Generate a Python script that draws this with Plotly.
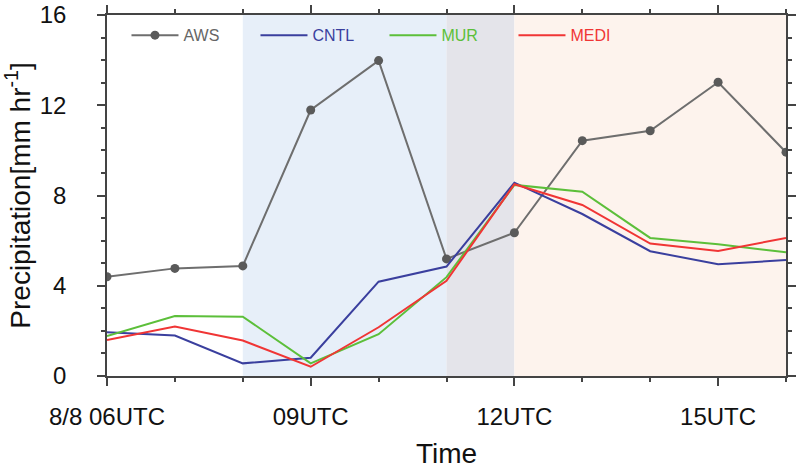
import plotly.graph_objects as go

hours = [6, 7, 8, 9, 10, 11, 12, 13, 14, 15, 16]
aws = [4.40, 4.77, 4.88, 11.79, 13.98, 5.19, 6.35, 10.43, 10.87, 13.02, 9.92]
cntl = [1.94, 1.79, 0.56, 0.81, 4.18, 4.85, 8.57, 7.18, 5.53, 4.95, 5.14]
mur = [1.77, 2.66, 2.63, 0.56, 1.85, 4.38, 8.47, 8.17, 6.12, 5.84, 5.48]
medi = [1.60, 2.19, 1.57, 0.41, 2.16, 4.22, 8.50, 7.58, 5.87, 5.54, 6.12]

tick_vals = [6, 9, 12, 15]
tick_text = ["8/8 06UTC", "09UTC", "12UTC", "15UTC"]

period_start = [8, 11, 12]
period_end = [11, 12, 16]
period_color = ["rgb(231,239,249)", "rgb(228,228,234)", "rgb(253,243,237)"]

FONT = "Liberation Sans, Arial, Helvetica, sans-serif"

fig = go.Figure()

def lab(text, color):
    return f'<span style="color:{color}">{text}</span>'

fig.add_trace(go.Scatter(x=hours, y=aws, mode="lines+markers", name=lab("AWS", "#666666"),
                         line=dict(color="#6e6e6e", width=2),
                         marker=dict(color="#5a5a5a", size=9)))
fig.add_trace(go.Scatter(x=hours, y=cntl, mode="lines", name=lab("CNTL", "#3a3f9e"),
                         line=dict(color="#3a3f9e", width=2)))
fig.add_trace(go.Scatter(x=hours, y=mur, mode="lines", name=lab("MUR", "#5cbf3a"),
                         line=dict(color="#5cbf3a", width=2)))
fig.add_trace(go.Scatter(x=hours, y=medi, mode="lines", name=lab("MEDI", "#f03535"),
                         line=dict(color="#f03535", width=2)))

for s, e, c in zip(period_start, period_end, period_color):
    fig.add_shape(type="rect", xref="x", yref="paper", x0=s, x1=e, y0=0, y1=1,
                  fillcolor=c, line=dict(width=0), layer="below")

axis_common = dict(showgrid=False, zeroline=False, showline=True, linecolor="#444444",
                   linewidth=1.5, mirror="ticks", ticks="outside", ticklen=8, tickwidth=1.5,
                   tickcolor="#444444", automargin=False,
                   tickfont=dict(size=24, color="#111111", family=FONT))

fig.update_layout(
    width=800, height=469,
    margin=dict(l=107, r=14, t=15, b=93),
    plot_bgcolor="white", paper_bgcolor="white",
    font=dict(family=FONT),
    showlegend=True,
    hovermode=False,
    legend=dict(orientation="h", x=0.0287, y=0.991, xanchor="left", yanchor="top",
                bgcolor="rgba(0,0,0,0)", font=dict(size=16, family=FONT),
                entrywidth=67, entrywidthmode="pixels", itemwidth=47),
    xaxis=dict(range=[6, 16], tickmode="array", tickvals=tick_vals, ticktext=tick_text,
               minor=dict(dtick=1, tick0=6, ticks="outside", ticklen=4, tickcolor="#444444"),
               ticklabelstandoff=10,
               title=dict(text="Time", font=dict(size=28, color="#111111"), standoff=21),
               **axis_common),
    yaxis=dict(range=[0, 16], tickmode="array", tickvals=[0, 4, 8, 12, 16],
               minor=dict(dtick=1, tick0=0, ticks="outside", ticklen=4, tickcolor="#444444"),
               ticklabelstandoff=26,
               title=dict(text="Precipitation[mm hr<sup>-1</sup>]", font=dict(size=28, color="#111111"),
                          standoff=12),
               **axis_common),
)

fig.write_html("out.html", config={"displayModeBar": False},
               post_script="document.body.style.margin='0';document.body.style.padding='0';")
